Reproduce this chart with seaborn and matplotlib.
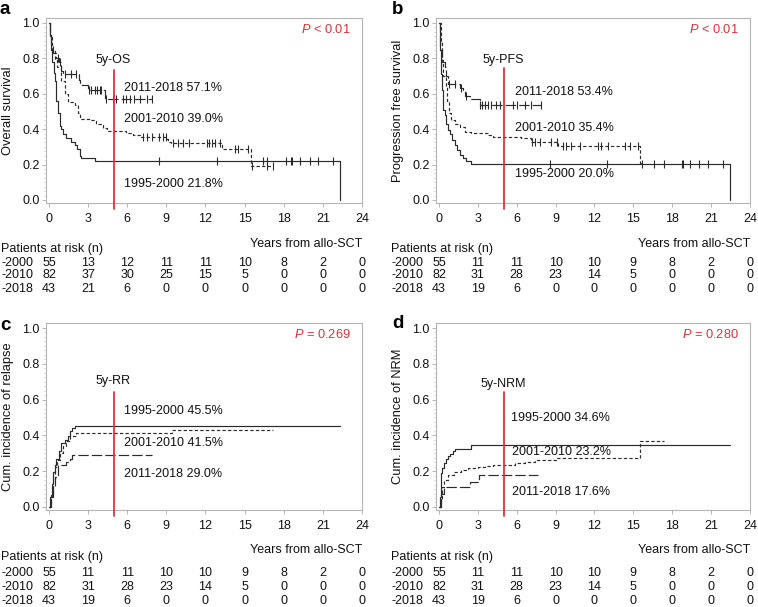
import numpy as np
import pandas as pd
import matplotlib
matplotlib.use("Agg")
import matplotlib.pyplot as plt
import matplotlib.transforms as mtransforms
import seaborn as sns

# ---------------- data ----------------
groups = ["1995-2000", "2001-2010", "2011-2018"]
risk_labels = ["-2000", "-2010", "-2018"]
x_ticks = [0, 3, 6, 9, 12, 15, 18, 21, 24]
y_ticks = [0.0, 0.2, 0.4, 0.6, 0.8, 1.0]

# Panel a: overall survival
os_t_1 = [0, 0.10, 0.18, 0.25, 0.35, 0.44, 0.56, 0.69, 0.82, 0.95, 1.08, 1.33, 1.72, 1.97, 2.18, 2.36, 2.48, 3.51, 22.28]
os_s_1 = [1.0, 0.93, 0.85, 0.78, 0.72, 0.67, 0.56, 0.49, 0.42, 0.40, 0.37, 0.35, 0.33, 0.31, 0.29, 0.25, 0.235, 0.218, 0.0]
os_c_1 = [8.45, 12.91, 16.44, 16.70, 18.19, 18.57, 18.67, 19.26, 19.98, 20.62, 21.77]
os_t_2 = [0, 0.10, 0.26, 0.44, 0.61, 0.95, 1.20, 1.46, 1.97, 2.23, 2.36, 3.12, 3.64, 4.15, 4.41, 5.94, 6.45, 6.97, 9.02, 9.14, 9.32, 13.24, 15.47, 17.21]
os_s_2 = [1.0, 0.92, 0.85, 0.79, 0.75, 0.67, 0.60, 0.555, 0.536, 0.49, 0.46, 0.45, 0.43, 0.404, 0.39, 0.38, 0.366, 0.357, 0.342, 0.329, 0.32, 0.288, 0.194, 0.194]
os_c_2 = [7.22, 7.48, 7.86, 8.45, 8.71, 9.0, 9.53, 9.91, 10.25, 10.76, 12.09, 12.30, 12.47, 12.73, 13.11, 14.27, 14.52, 15.29, 15.55, 16.70, 17.21]
os_t_3 = [0, 0.10, 0.18, 0.31, 0.51, 0.77, 0.95, 1.08, 2.28, 2.41, 3.0, 4.28, 7.86]
os_s_3 = [1.0, 0.94, 0.88, 0.83, 0.80, 0.78, 0.73, 0.714, 0.68, 0.65, 0.62, 0.573, 0.573]
os_c_3 = [0.69, 0.82, 1.2, 1.72, 2.1, 3.07, 3.2, 3.51, 3.71, 3.89, 4.02, 4.35, 4.92, 5.17, 5.69, 5.89, 6.2, 6.5, 6.97, 7.48, 7.86]

# Panel b: progression free survival
pfs_t_1 = [0, 0.08, 0.15, 0.23, 0.33, 0.44, 0.57, 0.70, 0.82, 1.0, 1.21, 1.42, 1.6, 1.85, 2.11, 2.5, 22.46]
pfs_s_1 = [1.0, 0.85, 0.71, 0.62, 0.51, 0.48, 0.43, 0.395, 0.37, 0.34, 0.31, 0.28, 0.254, 0.235, 0.222, 0.201, 0.0]
pfs_c_1 = [8.55, 13.0, 15.63, 16.58, 17.36, 18.72, 18.85, 19.37, 20.09, 20.78, 21.94]
pfs_t_2 = [0, 0.13, 0.23, 0.33, 0.52, 0.62, 0.75, 0.9, 1.21, 1.6, 2.03, 2.5, 3.79, 4.17, 6.36, 7.13, 9.19, 15.5, 15.63]
pfs_s_2 = [1.0, 0.90, 0.79, 0.70, 0.64, 0.56, 0.49, 0.45, 0.43, 0.41, 0.385, 0.38, 0.367, 0.357, 0.348, 0.329, 0.306, 0.207, 0.207]
pfs_c_2 = [7.2, 7.39, 7.78, 8.68, 9.14, 9.58, 9.84, 10.22, 10.86, 12.28, 12.54, 13.06, 14.34, 14.73, 15.37]
pfs_t_3 = [0, 0.10, 0.23, 0.44, 0.57, 0.70, 1.6, 1.85, 2.03, 2.37, 3.14, 7.91]
pfs_s_3 = [1.0, 0.85, 0.78, 0.75, 0.70, 0.658, 0.635, 0.62, 0.59, 0.568, 0.536, 0.536]
pfs_c_3 = [0.75, 1.21, 1.73, 2.11, 3.2, 3.32, 3.58, 3.79, 4.04, 4.43, 4.69, 5.72, 6.05, 6.62, 7.13, 7.91]

# Panel c: cumulative incidence of relapse
rr_t_1 = [0, 0.10, 0.20, 0.31, 0.44, 0.56, 0.77, 0.95, 1.2, 1.46, 1.64, 1.79, 1.97, 22.28]
rr_s_1 = [0.0, 0.056, 0.13, 0.197, 0.235, 0.27, 0.31, 0.357, 0.376, 0.395, 0.423, 0.44, 0.455, 0.455]
rr_t_2 = [0, 0.18, 0.31, 0.44, 0.61, 0.82, 1.08, 1.33, 1.64, 2.05, 9.4, 17.21]
rr_s_2 = [0.0, 0.075, 0.15, 0.225, 0.263, 0.30, 0.338, 0.367, 0.395, 0.415, 0.432, 0.432]
rr_t_3 = [0, 0.18, 0.31, 0.44, 0.69, 1.33, 1.59, 1.79, 7.86]
rr_s_3 = [0.0, 0.056, 0.113, 0.17, 0.235, 0.254, 0.267, 0.29, 0.29]

# Panel d: cumulative incidence of NRM
nrm_t_1 = [0, 0.08, 0.13, 0.18, 0.26, 0.36, 0.52, 0.70, 0.88, 1.08, 1.26, 2.5, 22.46]
nrm_s_1 = [0.0, 0.056, 0.122, 0.188, 0.216, 0.244, 0.267, 0.282, 0.297, 0.31, 0.325, 0.346, 0.346]
nrm_t_2 = [0, 0.13, 0.23, 0.39, 0.70, 1.16, 1.73, 2.24, 3.01, 3.53, 4.17, 5.85, 6.62, 7.39, 9.06, 15.5, 17.36]
nrm_s_2 = [0.0, 0.038, 0.113, 0.15, 0.179, 0.197, 0.207, 0.216, 0.226, 0.231, 0.232, 0.244, 0.254, 0.263, 0.273, 0.367, 0.367]
nrm_t_3 = [0, 0.18, 0.36, 2.37, 3.09, 7.65]
nrm_s_3 = [0.0, 0.075, 0.113, 0.141, 0.176, 0.176]

# numbers at risk
os_risk = [[55, 13, 12, 11, 11, 10, 8, 2, 0],
           [82, 37, 30, 25, 15, 5, 0, 0, 0],
           [43, 21, 6, 0, 0, 0, 0, 0, 0]]
other_risk = [[55, 11, 11, 10, 10, 9, 8, 2, 0],
              [82, 31, 28, 23, 14, 5, 0, 0, 0],
              [43, 19, 6, 0, 0, 0, 0, 0, 0]]

panels = [
    dict(letter="a", ylabel="Overall survival", five="5y-OS", p="$P$ < 0.01",
         curves=[(os_t_1, os_s_1, os_c_1), (os_t_2, os_s_2, os_c_2), (os_t_3, os_s_3, os_c_3)],
         risk=os_risk, red_top=0.735, five_y=0.79,
         notes=[("2011-2018 57.1%", 5.74, 0.63), ("2001-2010 39.0%", 5.74, 0.46), ("1995-2000 21.8%", 5.74, 0.088)]),
    dict(letter="b", ylabel="Progression free survival", five="5y-PFS", p="$P$ < 0.01",
         curves=[(pfs_t_1, pfs_s_1, pfs_c_1), (pfs_t_2, pfs_s_2, pfs_c_2), (pfs_t_3, pfs_s_3, pfs_c_3)],
         risk=other_risk, red_top=0.745, five_y=0.79,
         notes=[("2011-2018 53.4%", 5.85, 0.61), ("2001-2010 35.4%", 5.85, 0.408), ("1995-2000 20.0%", 5.85, 0.147)]),
    dict(letter="c", ylabel="Cum. incidence of relapse", five="5y-RR", p="$P$ = 0.269",
         curves=[(rr_t_1, rr_s_1, []), (rr_t_2, rr_s_2, []), (rr_t_3, rr_s_3, [])],
         risk=other_risk, red_top=0.643, five_y=0.705,
         notes=[("1995-2000 45.5%", 5.74, 0.536), ("2001-2010 41.5%", 5.74, 0.357), ("2011-2018 29.0%", 5.74, 0.182)]),
    dict(letter="d", ylabel="Cum. incidence of NRM", five="5y-NRM", p="$P$ = 0.280",
         curves=[(nrm_t_1, nrm_s_1, []), (nrm_t_2, nrm_s_2, []), (nrm_t_3, nrm_s_3, [])],
         risk=other_risk, red_top=0.64, five_y=0.686,
         notes=[("1995-2000 34.6%", 5.54, 0.498), ("2001-2010 23.2%", 5.64, 0.305), ("2011-2018 17.6%", 5.64, 0.085)]),
]

# ---------------- style ----------------
sns.set_style("ticks")
plt.rcParams["font.family"] = ["Liberation Sans", "DejaVu Sans"]
plt.rcParams["mathtext.fontset"] = "custom"
plt.rcParams["mathtext.rm"] = "Liberation Sans"
plt.rcParams["mathtext.it"] = "Liberation Sans:italic"
plt.rcParams["lines.scale_dashes"] = False

W, H = 758, 607
fig = plt.figure(figsize=(W / 100, H / 100), dpi=100)

line_col = "#2b2b2b"
red = "#e0323a"
spine_col = "#b5b5b5"
styles = ["-", (0, (2.4, 1.6)), (0, (7.5, 2.2))]
FS = 9.0

# axes boxes in pixel coords: left, top, right, bottom
boxes = [(46, 18, 362, 203), (436, 18, 750, 203), (46, 323, 362, 510), (436, 323, 750, 510)]
# layout of texts in pixel coords
table_y = [dict(years=244, pat=249, rows=[262.5, 275.5, 288.5]),
           dict(years=244, pat=249, rows=[262.5, 275.5, 288.5]),
           dict(years=550, pat=557, rows=[573, 587, 600.5]),
           dict(years=550, pat=557, rows=[573, 587, 600.5])]
left_text_x = [1, 391, 1, 391]
ylabel_right = [14, 404, 14, 404]
letter_pos = [(0, 10), (392, 10), (0, 326), (392, 323)]


def step_at(t, s, q):
    t = np.asarray(t)
    s = np.asarray(s)
    idx = np.searchsorted(t, q, side="right") - 1
    return s[idx]


for i, pan in enumerate(panels):
    l, tp, r, b = boxes[i]
    ax = fig.add_axes([l / W, 1 - b / H, (r - l) / W, (b - tp) / H])
    for k, (t, s, cens) in enumerate(pan["curves"]):
        df = pd.DataFrame({"t": t, "s": s})
        sns.lineplot(data=df, x="t", y="s", ax=ax, drawstyle="steps-post", estimator=None,
                     sort=False, color=line_col, linewidth=0.85, linestyle=styles[k])
        if len(cens):
            cdf = pd.DataFrame({"t": cens, "s": step_at(t, s, cens)})
            sns.scatterplot(data=cdf, x="t", y="s", ax=ax, marker="|", s=28,
                            color=line_col, linewidth=0.8)
    # 5-year line
    ax.plot([5, 5], [-0.05, pan["red_top"]], color=red, linewidth=1.3, clip_on=False, zorder=5)
    ax.text(4.95, pan["five_y"], pan["five"], ha="center", va="center", fontsize=FS, color="#111")
    for txt, x, y in pan["notes"]:
        ax.text(x, y, txt, ha="left", va="center", fontsize=FS, color="#111")
    ax.text(0.965, 0.94, pan["p"], transform=ax.transAxes, ha="right", va="center",
            fontsize=FS + 0.3, color=red)

    ax.set_xlim(-0.23, 24.0)
    ax.set_ylim(-0.017, 1.028)
    ax.set_xticks(x_ticks)
    ax.set_xticklabels([str(v) for v in x_ticks])
    ax.set_yticks(y_ticks)
    ax.set_yticklabels([f"{v:.1f}" for v in y_ticks])
    ax.set_yticks(np.arange(0, 1.0001, 0.025), minor=True)
    ax.tick_params(axis="both", which="major", labelsize=FS, colors=spine_col,
                   labelcolor="#111", length=3, width=0.7)
    ax.tick_params(axis="x", pad=4.5)
    ax.tick_params(axis="y", pad=1.5)
    ax.tick_params(axis="y", which="minor", length=1.2, width=0.5, colors="#c8c8c8")
    for sp in ax.spines.values():
        sp.set_visible(True)
        sp.set_color(spine_col)
        sp.set_linewidth(0.8)
    ax.set_xlabel("")
    ax.set_ylabel(pan["ylabel"], fontsize=FS + 0.3, color="#111")
    ax.yaxis.set_label_coords((ylabel_right[i] - l) / (r - l), 0.5)

    # panel letter
    lx, ly = letter_pos[i]
    fig.text(lx / W, 1 - ly / H, pan["letter"], fontsize=13.5, fontweight="bold",
             ha="left", va="center", color="#000")

    # risk table
    ty = table_y[i]
    fig.text(r / W, 1 - ty["years"] / H, "Years from allo-SCT", ha="right", va="center",
             fontsize=FS, color="#111")
    fig.text(left_text_x[i] / W, 1 - ty["pat"] / H, "Patients at risk (n)", ha="left",
             va="center", fontsize=FS, color="#111")
    trans = mtransforms.blended_transform_factory(ax.transData, fig.transFigure)
    for j, row in enumerate(pan["risk"]):
        yy = 1 - ty["rows"][j] / H
        fig.text(left_text_x[i] / W, yy, risk_labels[j], ha="left", va="center",
                 fontsize=FS, color="#111")
        for xv, n in zip(x_ticks, row):
            ax.text(xv, yy, str(n), transform=trans, ha="center", va="center",
                    fontsize=FS, color="#111", clip_on=False)

fig.savefig("out.png", dpi=100)
